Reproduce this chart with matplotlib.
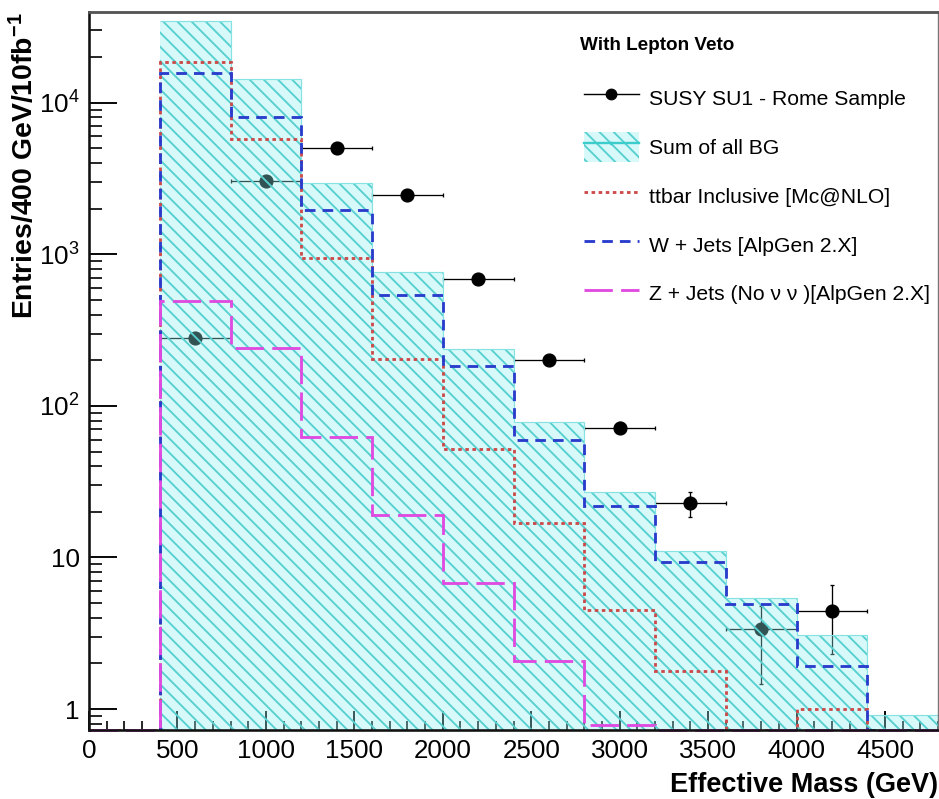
import numpy as np
import matplotlib
matplotlib.use('Agg')
import matplotlib.pyplot as plt
from matplotlib.lines import Line2D
from matplotlib.patches import Patch
from matplotlib.ticker import FixedLocator, MultipleLocator, NullFormatter

plt.rcParams['font.family'] = ['Liberation Sans', 'DejaVu Sans']
plt.rcParams['mathtext.fontset'] = 'custom'
plt.rcParams['mathtext.rm'] = 'Liberation Sans'
plt.rcParams['mathtext.bf'] = 'Liberation Sans:bold'
plt.rcParams['mathtext.it'] = 'Liberation Sans:italic'
plt.rcParams['lines.scale_dashes'] = False
plt.rcParams['hatch.linewidth'] = 1.6

# ---------------- data ----------------
bin_edges = [0, 400, 800, 1200, 1600, 2000, 2400, 2800, 3200, 3600, 4000, 4400, 4800]
bg_sum = [0, 34600, 14400, 2970, 770, 237, 78, 27, 11.1, 5.4, 3.07, 0.91]
ttbar = [0, 18600, 5800, 940, 205, 52, 17, 4.5, 1.78, 0, 1.0, 0]
wjets = [0, 15700, 8100, 1950, 540, 182, 60, 22, 9.3, 4.9, 1.92, 0]
zjets = [0, 490, 240, 62, 19, 6.8, 2.07, 0.78, 0, 0, 0, 0]

susy_x = [600, 1000, 1400, 1800, 2200, 2600, 3000, 3400, 3800, 4200]
susy_y = [280, 3030, 5000, 2480, 690, 200, 72, 23, 3.36, 4.4]
susy_err_lo = [12, 40, 55, 40, 20, 10, 6, 4.5, 1.9, 2.1]
susy_err_hi = [12, 40, 55, 40, 20, 10, 6, 4.0, 1.4, 2.2]
susy_xerr = [200] * 10

y_ticks = [1, 10, 100, 1000, 10000]
y_tick_labels = ['1', '10', '$10^{2}$', '$10^{3}$', '$10^{4}$']
x_ticks = [0, 500, 1000, 1500, 2000, 2500, 3000, 3500, 4000, 4500]

legend_title = 'With Lepton Veto'
lab_susy = 'SUSY SU1 - Rome Sample'
lab_bg = 'Sum of all BG'
lab_tt = 'ttbar Inclusive [Mc@NLO]'
lab_w = 'W + Jets [AlpGen 2.X]'
lab_z = 'Z + Jets (No ν ν )[AlpGen 2.X]'

# ---------------- style ----------------
YMIN, YMAX = 0.727, 39700
XMIN, XMAX = 0, 4800
c_red = '#cc4a4a'
c_blue = '#2a3ccc'
c_mag = '#e04ae0'
c_hatch = '#58d0d0'
c_face = (0.57, 0.94, 0.94, 0.35)

DPI = 85
fig = plt.figure(figsize=(939 / DPI, 799 / DPI), dpi=DPI)
ax = fig.add_axes([89 / 939, 69 / 799, (938 - 89) / 939, (730 - 12) / 799])

edges = np.array(bin_edges, dtype=float)

def floor(v):
    return np.maximum(np.array(v, dtype=float), YMIN)

# SUSY points (drawn below the hatched BG fill)
ax.errorbar(susy_x, susy_y, xerr=susy_xerr, yerr=[susy_err_lo, susy_err_hi],
            fmt='o', color='black', ms=11, elinewidth=1.1, capsize=2,
            capthick=1.1, zorder=1.5)

# Sum of all BG hatched fill
ax.stairs(floor(bg_sum), edges, baseline=YMIN, fill=True, facecolor=c_face,
          edgecolor=c_hatch, hatch='\\\\', linewidth=0, zorder=2)
ax.stairs(floor(bg_sum)[1:], edges[1:], baseline=None, color='#86e2e2',
          linewidth=1.0, zorder=2.1)

# component lines
ax.stairs(floor(ttbar), edges, baseline=None, color=c_red, linewidth=2.4,
          linestyle=(0, (3, 3)), zorder=3)
ax.stairs(floor(wjets), edges, baseline=None, color=c_blue, linewidth=2.4,
          linestyle=(0, (9, 6)), zorder=3.1)
ax.stairs(floor(zjets), edges, baseline=None, color=c_mag, linewidth=2.4,
          linestyle=(0, (24, 7)), zorder=3.2, clip_on=False)

ax.set_yscale('log')
ax.set_xlim(XMIN, XMAX)
ax.set_ylim(YMIN, YMAX)

ax.yaxis.set_major_locator(FixedLocator(y_ticks))
ax.set_yticklabels(y_tick_labels)
minors = []
for dec in [0.1, 1, 10, 100, 1000, 10000]:
    for s in range(2, 10):
        v = dec * s
        if YMIN < v < YMAX:
            minors.append(v)
ax.yaxis.set_minor_locator(FixedLocator(minors))
ax.yaxis.set_minor_formatter(NullFormatter())
ax.xaxis.set_major_locator(FixedLocator(x_ticks))
ax.xaxis.set_minor_locator(MultipleLocator(100))

ax.tick_params(axis='y', which='major', direction='in', length=24, width=1.6,
               pad=8, labelsize=22)
ax.tick_params(axis='y', which='minor', direction='in', length=11, width=1.4)
ax.tick_params(axis='x', which='major', direction='in', length=16, width=1.6,
               pad=8, labelsize=22)
ax.tick_params(axis='x', which='minor', direction='in', length=8, width=1.4)

for s in ['left', 'bottom']:
    ax.spines[s].set_linewidth(2.2)
    ax.spines[s].set_color('#111111')
ax.spines['top'].set_linewidth(2.4)
ax.spines['top'].set_color('#555555')
ax.spines['right'].set_linewidth(1.2)
ax.spines['right'].set_color('#777777')
for s in ax.spines.values():
    s.set_zorder(4)

ax.set_xlabel('Effective Mass (GeV)', fontsize=23, fontweight='bold', loc='right')
ax.xaxis.set_label_coords(1.0, -0.058)
ax.set_ylabel('Entries/400 GeV/10fb$^{\\mathbf{-1}}$', fontsize=24,
              fontweight='bold', loc='top')
ax.yaxis.set_label_coords(-0.059, 1.0)

# legend
h_susy = Line2D([], [], color='black', marker='o', ms=9, lw=1.2)
h_bg = (Patch(facecolor=c_face, edgecolor=c_hatch, hatch='\\\\', linewidth=0),
        Line2D([], [], color='#3ccccc', lw=2.0, marker='o', ms=2))
h_tt = Line2D([], [], color=c_red, lw=2.4, linestyle=(0, (3, 3)))
h_w = Line2D([], [], color=c_blue, lw=2.4, linestyle=(0, (9, 6)))
h_z = Line2D([], [], color=c_mag, lw=2.4, linestyle=(0, (24, 7)))

FS = 17.9
leg = ax.legend([h_susy, h_bg, h_tt, h_w, h_z], [lab_susy, lab_bg, lab_tt, lab_w, lab_z],
                frameon=False, fontsize=FS,
                loc='upper left', bbox_to_anchor=(584 / 939, (799 - 83) / 799),
                bbox_transform=fig.transFigure, borderpad=0, borderaxespad=0,
                handlelength=2.6, handleheight=1.8, handletextpad=0.47,
                labelspacing=0.9)
leg.set_zorder(5)
fig.text(580 / 939, 1 - 45 / 799, legend_title, fontsize=16, fontweight='bold',
         ha='left', va='center', zorder=6)

fig.savefig('out.png', dpi=DPI)
